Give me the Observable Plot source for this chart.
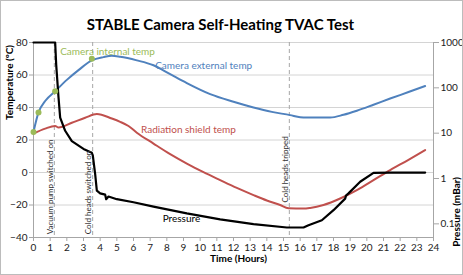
<!DOCTYPE html>
<html><head><meta charset="utf-8">
<script src="https://cdn.jsdelivr.net/npm/d3@7"></script>
<script src="https://cdn.jsdelivr.net/npm/@observablehq/plot@0.6"></script>
<style>
body{margin:0;background:#fff;}
#wrap{position:relative;width:463px;height:275px;}
#border{position:absolute;left:0;top:0;width:463px;height:275px;box-sizing:border-box;border:1px solid #bcbcbc;pointer-events:none;}
</style>
</head><body>
<div id="wrap"><div id="border"></div></div>
<script>
// ---- data ----
const titleText = "STABLE Camera Self-Heating TVAC Test";
const xTicks = d3.range(0, 25, 1);
const tempTicks = [-40, -20, 0, 20, 40, 60, 80];
const pressureTicks = [0.1, 1, 10, 100, 1000];

const extHours = [0, 0.3, 0.7, 1.3, 2, 2.7, 3.5, 4.2, 4.7, 5.2, 6.2, 7.2, 8.2, 9.2, 10.6, 12, 13.2, 14.3, 15.4, 16, 16.4, 17.8, 18.6, 19.4, 20.4, 21.4, 22.5, 23.5];
const extTemp  = [25, 37, 44, 50, 57, 63, 69, 71, 71.8, 71.2, 69, 66, 60.5, 55, 48.2, 43.5, 40, 37.3, 35.3, 34, 33.8, 33.8, 35.5, 38, 41.7, 45.5, 49.5, 53.2];

const shieldHours = [0, 0.7, 1.3, 1.5, 2.3, 3.1, 3.8, 4.7, 5.2, 5.7, 6.2, 7.2, 8.2, 9.2, 10.2, 11.2, 12.2, 13.2, 14, 14.8, 15.3, 16.2, 16.6, 17.4, 18.4, 19.4, 20.4, 21.4, 22.5, 23.5];
const shieldTemp  = [24, 27, 28.6, 27.7, 30.6, 33.7, 36, 33.2, 31.2, 28.6, 24.5, 17.8, 11.3, 5.5, 0.2, -4.7, -9.5, -13.9, -17.2, -20, -22, -22.2, -21.8, -20, -16, -10.8, -4.7, 1.5, 7.8, 13.8];

const internalHours = [0, 0.3, 1.3, 3.5];
const internalTemp  = [25, 37, 50, 70];

const pHours    = [0, 1.3, 1.36, 1.5, 1.6, 1.9, 2.3, 3.0, 3.5, 3.56, 3.7, 3.8, 4.0, 4.3, 4.36, 4.5, 5.0, 6.0, 7.2, 9.2, 11.2, 13.2, 15.2, 16.2, 16.5, 17.3, 18.0, 18.7, 18.75, 18.9, 19.6, 20.4, 21.4, 23.5];
const pressure  = [1000, 1000, 330, 62, 22, 11.3, 6.7, 4.5, 3.7, 3.2, 1.25, 0.54, 0.47, 0.44, 0.35, 0.4, 0.35, 0.3, 0.24, 0.17, 0.126, 0.099, 0.083, 0.083, 0.093, 0.12, 0.2, 0.36, 0.42, 0.47, 0.85, 1.33, 1.35, 1.35];

const eventHours  = [1.25, 3.55, 15.35];
const eventLabels = ["Vacuum pump switched on", "Cold heads switched on", "Cold heads tripped"];
const eventLabelBottom = [-38, -38, -18.5];

const seriesLabels = ["Camera internal temp", "Camera external temp", "Radiation shield temp", "Pressure"];
const seriesLabelHours = [1.6, 7.3, 6.45, 7.75];
const seriesLabelTemp  = [74.3, 65.5, 26.1, -28.3];

// ---- styling ----
const GREEN = "#9bbb59", BLUE = "#4f81bd", RED = "#c0504d";
const FONT = "Lato, 'Open Sans', sans-serif";

// secondary (log) axis mapped onto temperature axis
const pMin = Math.log10(0.05), pMax = 3;
const toT = p => -40 + (Math.log10(p) - pMin) / (pMax - pMin) * 120;

const ext = extHours.map((h, i) => ({h, t: extTemp[i]}));
const shield = shieldHours.map((h, i) => ({h, t: shieldTemp[i]}));
const internal = internalHours.map((h, i) => ({h, t: internalTemp[i]}));
const press = pHours.map((h, i) => ({h, t: toT(pressure[i])}));
const events = eventHours.map((h, i) => ({h, label: eventLabels[i], t: eventLabelBottom[i]}));
const labels = seriesLabels.map((s, i) => ({s, h: seriesLabelHours[i], t: seriesLabelTemp[i], c: [GREEN, BLUE, RED, "#000"][i]}));
const pLabel = new Map(pressureTicks.map(p => [toT(p), String(p)]));

const chart = Plot.plot({
  width: 463, height: 275,
  marginLeft: 33, marginRight: 30, marginTop: 42, marginBottom: 38,
  style: {fontFamily: FONT, fontSize: "10px", color: "#222", background: "transparent"},
  x: {domain: [0, 24]},
  y: {domain: [-40, 80]},
  marks: [
    Plot.gridY(tempTicks, {stroke: "#d4d4d4", strokeOpacity: 1}),
    Plot.ruleX(events, {x: "h", stroke: "#a6a6a6", strokeDasharray: "4,3"}),
    Plot.ruleX([0, 24], {stroke: "#a6a6a6"}),
    Plot.ruleY([-40], {stroke: "#a6a6a6"}),
    Plot.axisX({ticks: xTicks, tickSize: 4, tickPadding: 2, stroke: "#a6a6a6", label: null, fill: "#222"}),
    Plot.axisY({ticks: tempTicks, tickSize: 4, tickPadding: 2, stroke: "#a6a6a6", label: null, fill: "#222"}),
    Plot.axisY(pressureTicks.map(toT), {anchor: "right", tickSize: 5, tickPadding: 2, stroke: "#a6a6a6", label: null, fill: "#222", tickFormat: d => pLabel.get(d)}),
    Plot.line(shield, {x: "h", y: "t", stroke: RED, strokeWidth: 2, curve: "monotone-x"}),
    Plot.line(ext, {x: "h", y: "t", stroke: BLUE, strokeWidth: 2, curve: "monotone-x"}),
    Plot.line(press, {x: "h", y: "t", stroke: "#000", strokeWidth: 2.2}),
    Plot.dot(internal, {x: "h", y: "t", r: 3, fill: GREEN, stroke: "none"}),
    Plot.text(events, {x: "h", y: "t", text: "label", rotate: -90, textAnchor: "start", lineAnchor: "middle", dx: -4, fontSize: 8, fill: "#333"}),
    Plot.text(labels, {x: "h", y: "t", text: "s", fill: "c", textAnchor: "start", fontSize: 10, fontWeight: d => d.s === "Pressure" ? "bold" : "normal"}),
    Plot.text([titleText], {frameAnchor: "top", dy: -23, dx: -13, fontSize: 15, fontWeight: "bold", fill: "#000"}),
    Plot.text(["Time (Hours)"], {frameAnchor: "bottom", dy: 24, dx: 5, fontSize: 10, fontWeight: "bold", fill: "#000"}),
    Plot.text(["Temperature (ºC)"], {frameAnchor: "left", dx: -24, dy: -20, rotate: -90, fontSize: 10, fontWeight: "bold", fill: "#000"}),
    Plot.text(["Pressure (mBar)"], {frameAnchor: "right", dx: 23, dy: 37, rotate: -90, fontSize: 10, fontWeight: "bold", fill: "#000"})
  ]
});
document.getElementById("wrap").prepend(chart);
</script>
</body></html>
